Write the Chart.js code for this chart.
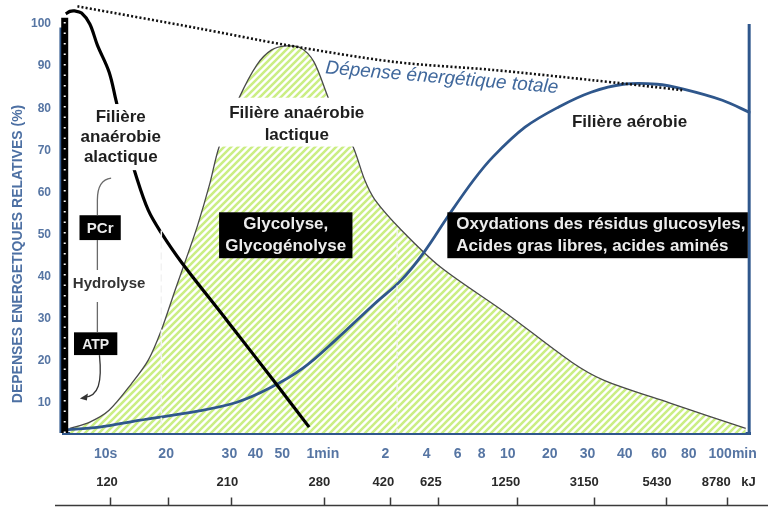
<!DOCTYPE html>
<html>
<head>
<meta charset="utf-8">
<script src="https://cdn.jsdelivr.net/npm/chart.js@4.4.1/dist/chart.umd.min.js"></script>
<style>
  html, body { margin: 0; padding: 0; background: #fff; }
  #wrap { width: 770px; height: 507px; }
</style>
</head>
<body>
<div id="wrap"><canvas id="chart" width="770" height="507"></canvas></div>
<script>
// axes (positions read on the hand-drawn time axis, 0 = y axis, 100 = right border)
const yTicks = [10, 20, 30, 40, 50, 60, 70, 80, 90, 100];
const timeLabels = ['10s', '20', '30', '40', '50', '1min', '2', '4', '6', '8', '10', '20', '30', '40', '60', '80', '100min'];
const timePos = [6.2, 15.0, 24.2, 28.0, 31.9, 37.8, 46.9, 52.9, 57.4, 60.9, 64.7, 70.8, 76.3, 81.7, 86.7, 91.0, 97.4];
const kjLabels = ['120', '210', '280', '420', '625', '1250', '3150', '5430', '8780', 'kJ'];
const kjPos = [6.4, 23.9, 37.3, 46.6, 53.5, 64.4, 75.8, 86.4, 95.0, 99.7];
const kjMarks = [6.9, 15.3, 24.5, 37.9, 47.5, 54.5, 66.0, 77.3, 87.7, 96.6];

// curves: [time position, % of energy expenditure]
const atpBar = [[0.25, 2.9], [0.25, 101.5]];
const alactique = [[0.4, 102.4], [1.0, 103.0], [1.7, 103.1], [2.7, 102.6], [3.9, 100.0], [5.0, 95.0], [6.7, 88.6], [7.7, 81.9], [8.9, 73.6], [10.6, 64.1], [12.4, 55.8], [14.3, 50.4], [17.2, 43.5], [23.9, 29.5], [30.6, 15.4], [35.8, 4.3]];
const lactique = [[1.0, 4.0], [3.9, 5.5], [6.7, 8.3], [10.0, 14.7], [12.4, 20.2], [14.3, 27.3], [16.3, 36.8], [18.2, 45.6], [19.6, 52.3], [21.3, 61.8], [22.7, 70.8], [25.6, 82.4], [28.2, 90.3], [30.3, 93.8], [32.5, 94.8], [34.6, 94.3], [36.5, 91.0], [38.6, 82.4], [40.3, 76.0], [42.2, 70.8], [43.9, 62.9], [45.4, 58.2], [49.2, 51.1], [54.9, 42.3], [64.4, 31.4], [74.0, 19.7], [78.7, 15.4], [88.3, 10.0], [99.3, 4.0]];
const aerobie = [[0, 3.6], [5.3, 4.3], [11.0, 5.9], [19.6, 8.1], [25.3, 10.2], [30.0, 13.5], [34.9, 18.3], [39.6, 24.9], [45.4, 33.7], [49.2, 39.2], [52.5, 45.8], [56.1, 54.6], [59.7, 62.9], [62.5, 68.4], [67.2, 75.5], [72.1, 80.3], [76.8, 83.8], [81.5, 85.7], [86.4, 85.7], [90.1, 84.6], [95.9, 81.9], [100, 78.9]];
const totale = [[2.1, 104.2], [19.6, 99.0], [32.5, 95.0], [48.2, 91.0], [62.5, 89.1], [76.8, 86.7], [90.1, 84.3]];

const FONT = '"Liberation Sans", Arial, Helvetica, sans-serif';
const BLUE = '#2f578c';
const TICK_BLUE = '#5675a3';

const titles = [
  { text: ['Filière', 'anaérobie', 'alactique'], x: 8.4, y: [77.9, 73.2, 68.4] },
  { text: ['Filière anaérobie', 'lactique'], x: 34.0, y: [78.9, 73.6] },
  { text: ['Filière aérobie'], x: 82.4, y: [76.7] }
];
const blackBoxes = [
  { text: ['Glycolyse,', 'Glycogénolyse'], x0: 22.7, x1: 42.1, y0: 55.3, y1: 44.4, size: 17, align: 'center' },
  { text: ['Oxydations des résidus glucosyles,', 'Acides gras libres, acides aminés'], x0: 55.9, x1: 99.6, y0: 55.3, y1: 44.4, size: 17, align: 'left' },
  { text: ['PCr'], x0: 2.4, x1: 8.4, y0: 54.6, y1: 48.7, size: 15, align: 'center' },
  { text: ['ATP'], x0: 1.6, x1: 7.9, y0: 26.8, y1: 21.4, size: 14, align: 'center' }
];
const cutLines = [14.3, 48.6];

function pts(arr) {
  return arr.map(function(p) { return { x: p[0], y: p[1] }; });
}

function hatch(ctx) {
  const c = document.createElement('canvas');
  c.width = 7; c.height = 7;
  const g = c.getContext('2d');
  g.fillStyle = '#ffffff';
  g.fillRect(0, 0, 7, 7);
  g.strokeStyle = '#cbee84';
  g.lineWidth = 2.6;
  g.beginPath();
  [-7, 0, 7].forEach(function(k) { g.moveTo(k - 1, 8); g.lineTo(k + 8, -1); });
  g.stroke();
  return ctx.createPattern(c, 'repeat');
}

const frame = {
  id: 'frame',
  beforeDatasetsDraw(chart) {
    const ctx = chart.ctx, x = chart.scales.x, y = chart.scales.y;
    ctx.save();
    ctx.strokeStyle = BLUE;
    ctx.lineWidth = 3;
    ctx.beginPath();
    ctx.moveTo(x.getPixelForValue(-0.3), y.getPixelForValue(99.2));
    ctx.lineTo(x.getPixelForValue(-0.3), y.bottom);
    ctx.moveTo(x.getPixelForValue(99.8), y.getPixelForValue(100));
    ctx.lineTo(x.getPixelForValue(99.8), y.bottom);
    ctx.stroke();
    ctx.restore();
  }
};

const annotations = {
  id: 'annotations',
  afterDatasetsDraw(chart) {
    const ctx = chart.ctx, sx = chart.scales.x, sy = chart.scales.y;
    const px = function(v) { return sx.getPixelForValue(v); };
    const py = function(v) { return sy.getPixelForValue(v); };
    ctx.save();

    // faint dashed cuts of the original drawing
    ctx.strokeStyle = '#f2f2f2';
    ctx.lineWidth = 1.5;
    ctx.setLineDash([7, 4]);
    cutLines.forEach(function(u) {
      ctx.beginPath();
      ctx.moveTo(px(u), py(51));
      ctx.lineTo(px(u), sy.bottom);
      ctx.stroke();
    });
    ctx.setLineDash([]);

    // white backgrounds behind the pathway titles
    ctx.fillStyle = '#ffffff';
    ctx.fillRect(px(2.7), py(81.0), px(14.2) - px(2.7), py(65.3) - py(81.0));
    ctx.fillRect(px(21.7), py(82.5), px(45.3) - px(21.7), py(70.9) - py(82.5));

    ctx.textBaseline = 'middle';
    ctx.textAlign = 'center';
    ctx.fillStyle = '#1e1e1e';
    ctx.font = 'bold 17px ' + FONT;
    titles.forEach(function(t) {
      t.text.forEach(function(s, i) { ctx.fillText(s, px(t.x), py(t.y[i])); });
    });

    blackBoxes.forEach(function(b) {
      const x0 = px(b.x0), x1 = px(b.x1), y0 = py(b.y0), y1 = py(b.y1);
      ctx.fillStyle = '#000000';
      ctx.fillRect(x0, y0, x1 - x0, y1 - y0);
      ctx.fillStyle = '#ececec';
      ctx.font = 'bold ' + b.size + 'px ' + FONT;
      ctx.textAlign = b.align;
      const tx = b.align === 'left' ? x0 + 9 : (x0 + x1) / 2;
      if (b.text.length === 1) {
        ctx.fillText(b.text[0], tx, (y0 + y1) / 2 + 1);
      } else {
        b.text.forEach(function(s, i) { ctx.fillText(s, tx, y0 + 12 + i * 22); });
      }
    });

    ctx.textAlign = 'center';
    ctx.fillStyle = '#333333';
    ctx.font = 'bold 15px ' + FONT;
    ctx.fillText('Hydrolyse', px(6.7), py(38.2));

    // connectors PCr -> Hydrolyse -> ATP
    ctx.strokeStyle = '#6a6a6a';
    ctx.lineWidth = 1.3;
    ctx.beginPath();
    ctx.moveTo(px(7.0), py(63.4));
    ctx.quadraticCurveTo(px(5.0), py(63.0), px(5.0), py(58.2));
    ctx.lineTo(px(5.0), py(54.6));
    ctx.moveTo(px(5.0), py(48.7));
    ctx.lineTo(px(5.0), py(41.6));
    ctx.moveTo(px(5.0), py(34.0));
    ctx.lineTo(px(5.0), py(26.8));
    ctx.stroke();

    ctx.strokeStyle = '#333333';
    ctx.beginPath();
    ctx.moveTo(px(5.3), py(21.4));
    ctx.bezierCurveTo(px(5.7), py(15.0), px(5.2), py(11.6), px(3.1), py(11.4));
    ctx.stroke();
    const ax = px(2.6), ay = py(11.3);
    ctx.fillStyle = '#333333';
    ctx.beginPath();
    ctx.moveTo(ax - 1, ay + 1);
    ctx.lineTo(ax + 7, ay - 4);
    ctx.lineTo(ax + 6, ay + 3);
    ctx.closePath();
    ctx.fill();

    // total expenditure label
    ctx.save();
    ctx.translate(px(55.1), py(87.2));
    ctx.rotate(0.085);
    ctx.fillStyle = '#40689c';
    ctx.font = 'italic 19px ' + FONT;
    ctx.fillText('Dépense énergétique totale', 0, 0);
    ctx.restore();

    ctx.restore();
  },
  afterDraw(chart) {
    const ctx = chart.ctx, sy = chart.scales.y, s2 = chart.scales.x2;
    ctx.save();
    // y title
    ctx.translate(18, sy.getPixelForValue(45.4));
    ctx.rotate(-Math.PI / 2);
    ctx.fillStyle = '#4d70a3';
    ctx.font = 'bold 14px ' + FONT;
    ctx.textAlign = 'center';
    ctx.textBaseline = 'middle';
    ctx.fillText('DEPENSES ENERGETIQUES RELATIVES (%)', 0, 0);
    ctx.restore();

    // kJ base line with its ticks
    ctx.save();
    const yb = chart.height - 1.5;
    ctx.strokeStyle = '#3a3a3a';
    ctx.lineWidth = 1.5;
    ctx.beginPath();
    ctx.moveTo(55, yb);
    ctx.lineTo(chart.width - 2, yb);
    kjMarks.forEach(function(u) {
      const xx = Math.round(s2.getPixelForValue(u)) + 0.5;
      ctx.moveTo(xx, yb);
      ctx.lineTo(xx, yb - 8);
    });
    ctx.stroke();
    ctx.restore();
  }
};

const canvas = document.getElementById('chart');

new Chart(canvas, {
  type: 'line',
  data: {
    datasets: [
      { label: 'Dépense énergétique totale', data: pts(totale), borderColor: '#111', borderWidth: 2.6, borderDash: [2, 2.2], tension: 0.3, pointRadius: 0, fill: false },
      { label: 'ATP dots', data: pts(atpBar), borderColor: '#ffffff', borderWidth: 2, borderDash: [1.5, 9], pointRadius: 0, fill: false, clip: 10 },
      { label: 'ATP', data: pts(atpBar), borderColor: '#000', borderWidth: 7, pointRadius: 0, fill: false, clip: 10 },
      { label: 'Filière anaérobie alactique', data: pts(alactique), borderColor: '#000', borderWidth: 3.2, tension: 0.35, pointRadius: 0, fill: false },
      { label: 'Filière aérobie', data: pts(aerobie), borderColor: BLUE, borderWidth: 2.8, tension: 0.35, pointRadius: 0, fill: false },
      { label: 'Filière anaérobie lactique', data: pts(lactique), borderColor: '#4a4a4a', borderWidth: 1.3, backgroundColor: hatch(canvas.getContext('2d')), tension: 0.3, pointRadius: 0, fill: 'start' }
    ]
  },
  options: {
    responsive: false,
    animation: false,
    layout: { padding: { left: 0, right: 8, top: 0, bottom: 10 } },
    plugins: { legend: { display: false }, tooltip: { enabled: false } },
    scales: {
      x: {
        type: 'linear', position: 'bottom', weight: 0, min: 0, max: 100,
        afterBuildTicks: function(s) { s.ticks = timePos.map(function(v) { return { value: v }; }); },
        afterFit: function(s) { s.height = 36; },
        grid: { display: false, drawTicks: false },
        border: { color: BLUE, width: 3 },
        ticks: { autoSkip: false, maxRotation: 0, padding: 13, color: TICK_BLUE, font: { family: FONT, size: 14, weight: 'bold' }, callback: function(v, i) { return timeLabels[i]; } }
      },
      x2: {
        type: 'linear', position: 'bottom', weight: 1, min: 0, max: 100,
        afterBuildTicks: function(s) { s.ticks = kjPos.map(function(v) { return { value: v }; }); },
        afterFit: function(s) { s.height = 28; },
        grid: { display: false, drawTicks: false },
        border: { display: false },
        ticks: { autoSkip: false, maxRotation: 0, padding: 6, color: '#2a2a2a', font: { family: FONT, size: 13, weight: 'bold' }, callback: function(v, i) { return kjLabels[i]; } }
      },
      y: {
        type: 'linear', min: 2.9, max: 105.7,
        afterBuildTicks: function(s) { s.ticks = yTicks.map(function(v) { return { value: v }; }); },
        afterFit: function(s) { s.width = 63; s.paddingTop = 0; s.paddingBottom = 0; },
        grid: { display: false, drawTicks: false },
        border: { display: false },
        ticks: { padding: 12, color: TICK_BLUE, font: { family: FONT, size: 12, weight: 'bold' } }
      }
    }
  },
  plugins: [frame, annotations]
});
</script>
</body>
</html>
